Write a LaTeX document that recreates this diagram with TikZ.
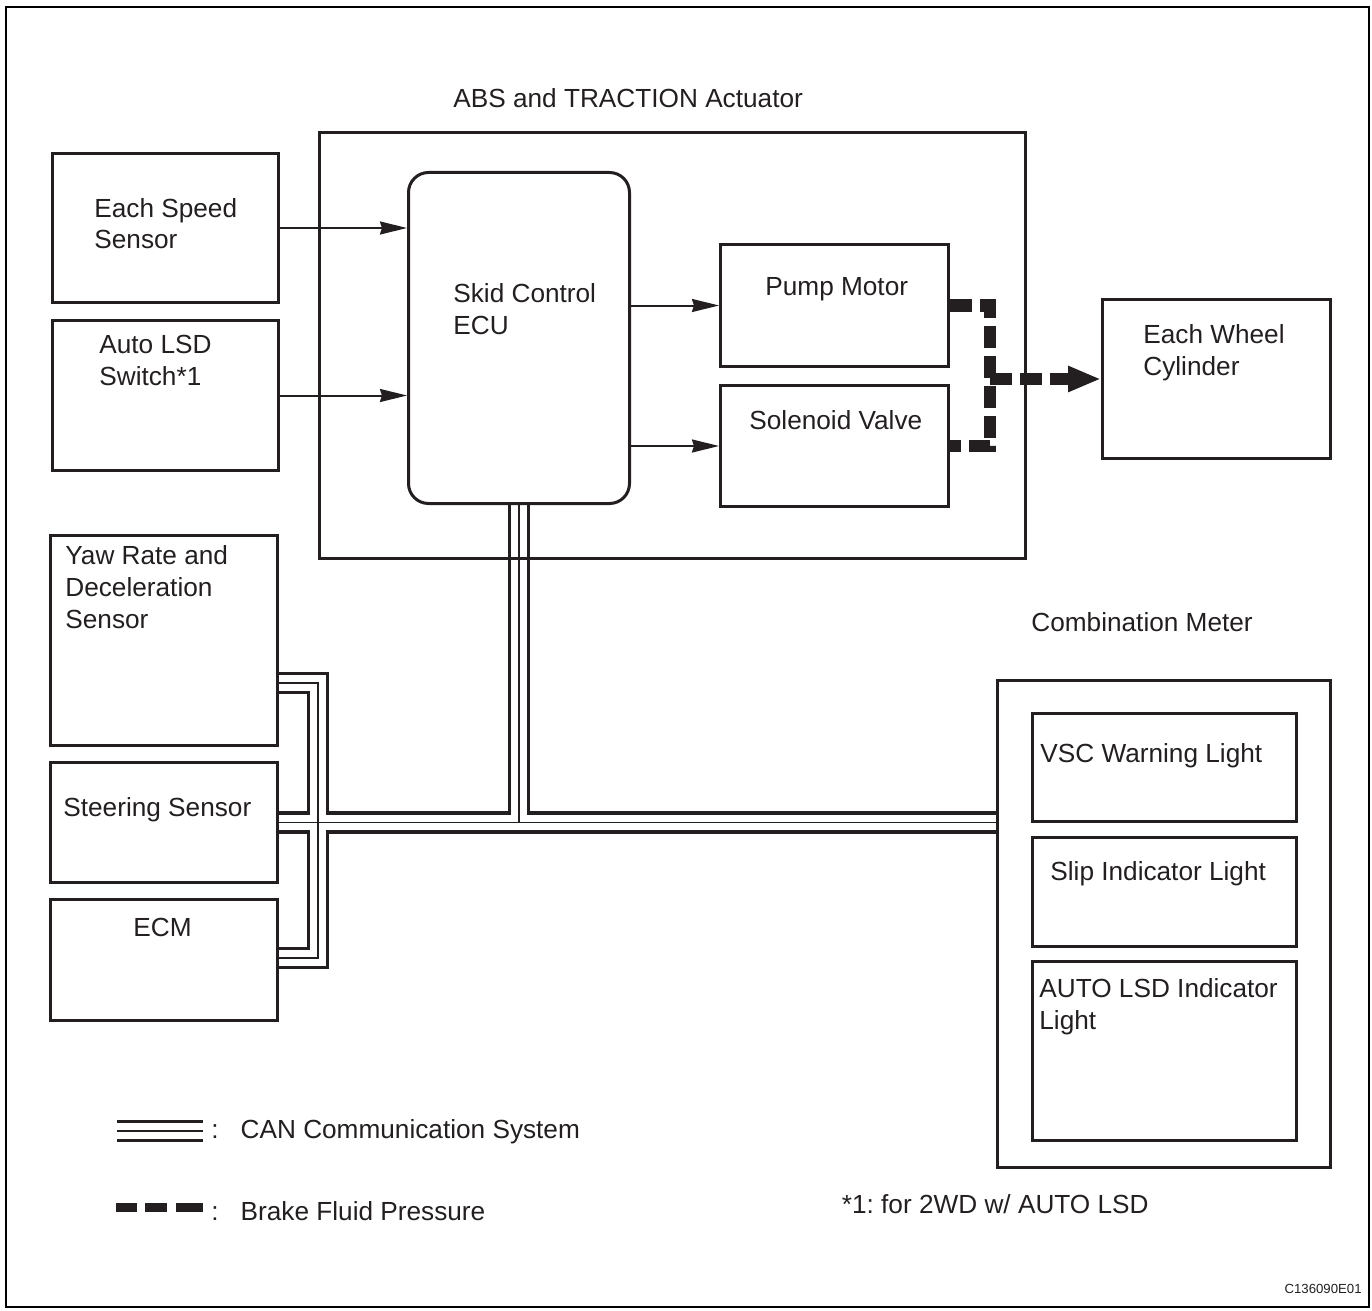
\documentclass[tikz,border=0pt]{standalone}
\usepackage{fontspec}
\setmainfont{Liberation Sans}
\usetikzlibrary{arrows.meta, positioning}
\definecolor{ink}{RGB}{35,31,32}
\pgfdeclarelayer{background}
\pgfsetlayers{background,main}

\begin{document}
\begin{tikzpicture}[
    x=0.5pt, y=-0.5pt,
    box/.style={rectangle, draw=ink, line width=1.5pt, inner sep=0pt, anchor=north west},
    ecubox/.style={box, rounded corners=10pt},
    txt/.style={anchor=base west, inner sep=0pt, align=left, text=ink, font=\fontsize{13.1}{15.8}\selectfont},
    sig/.style={-{Stealth[length=13.5pt, width=6.5pt, inset=1pt]}, line width=1pt, draw=ink},
    fluid/.style={line width=6.3pt, draw=ink, dash pattern=on 11pt off 4pt}
]
    \useasboundingbox (0,0) rectangle (1372,1311);
    \draw[line width=1pt] (6,7) rectangle (1369,1307);

    % Actuator and its parts
    \node[box, minimum width=353pt, minimum height=213pt] (act) at (318,131) {};
    \node[ecubox, minimum width=110.5pt, minimum height=165.5pt] (ecu) at (407,171) {};
    \node[box, minimum width=114pt, minimum height=61pt] (pump) at (719,243) {};
    \node[box, minimum width=114pt, minimum height=60.5pt] (sol) at (719,384) {};

    % Inputs
    \node[box, minimum width=113pt, minimum height=74.5pt] (speed) at (51,152) {};
    \node[box, minimum width=113pt, minimum height=75pt] (lsdsw) at (51,319) {};
    \node[box, minimum width=113.5pt, minimum height=105pt] (yaw) at (49,534) {};
    \node[box, minimum width=113.5pt, minimum height=60pt] (steer) at (49,761) {};
    \node[box, minimum width=113.5pt, minimum height=60.5pt] (ecm) at (49,898) {};

    % Outputs
    \node[box, minimum width=114pt, minimum height=79.5pt] (wheel) at (1101,298) {};
    \node[box, minimum width=166.5pt, minimum height=243.5pt] (meter) at (996,679) {};
    \node[box, minimum width=132pt, minimum height=54pt] (vsc) at (1031,712) {};
    \node[box, minimum width=132pt, minimum height=54.5pt] (slip) at (1031,836) {};
    \node[box, minimum width=132pt, minimum height=89.5pt] (autolsd) at (1031,960) {};

    % Labels (multi-line ones sit on their last baseline)
    \node[txt] (acttxt) at (453,108) {ABS and TRACTION Actuator};
    \node[txt] (ecutxt) at (453,334) {Skid Control\\ECU};
    \node[txt] (pumptxt) at (765,295) {Pump Motor};
    \node[txt] (soltxt) at (749,429) {Solenoid Valve};
    \node[txt] (speedtxt) at (94,249) {Each Speed\\Sensor};
    \node[txt] (lsdtxt) at (99,385) {Auto LSD\\Switch*1};
    \node[txt] (yawtxt) at (65,628) {Yaw Rate and\\Deceleration\\Sensor};
    \node[txt] (steertxt) at (63,816) {Steering Sensor};
    \node[txt] (ecmtxt) at (133,936) {ECM};
    \node[txt] (wheeltxt) at (1143,375) {Each Wheel\\Cylinder};
    \node[txt] (metertxt) at (1031,631) {Combination Meter};
    \node[txt] (vsctxt) at (1040,762) {VSC Warning Light};
    \node[txt] (sliptxt) at (1050,880) {Slip Indicator Light};
    \node[txt] (autotxt) at (1039,1029) {AUTO LSD Indicator\\Light};

    % Signal lines
    \draw[sig] (speed.east) -- (speed.east -| ecu.west);
    \draw[sig] (lsdsw.east) -- (lsdsw.east -| ecu.west);
    \draw[sig] (pump.west -| ecu.east) -- (pump.west);
    \draw[sig] (sol.west -| ecu.east) -- (sol.west);

    % Brake fluid pressure
    \coordinate (fj) at (990,0);
    \draw[fluid] (pump.east) -| (fj |- sol.east) -- (sol.east);
    \draw[fluid, -{Triangle[length=16.5pt, width=12pt]}] (fj |- wheel.west) -- (wheel.west);

    % CAN bus
    \coordinate (canA) at (318,683);
    \coordinate (canB) at (318,958);
    \coordinate (canL1) at (117,1131);
    \coordinate (canL2) at (203,1131);
    \begin{pgfonlayer}{background}
        \foreach \w/\c in {11.25pt/ink, 7.75pt/white, 0.8pt/ink} {
            \draw[line width=\w, draw=\c] (canA -| yaw.east) -- (canA) -- (canB) -- (canB -| ecm.east);
            \draw[line width=\w, draw=\c] (steer.east) -- (steer.east -| meter.west);
            \draw[line width=\w, draw=\c] (ecu.south) -- (ecu.south |- steer.east);
            \draw[line width=\w, draw=\c] (canL1) -- (canL2);
        }
    \end{pgfonlayer}

    % Legend
    \foreach \a/\b in {116/137, 145/167, 176/203}
        \fill[ink] (\a,1203) rectangle (\b,1212);
    \node[txt] (cantxt) at (211,1138) {:\hspace{11pt}CAN Communication System};
    \node[txt] (braketxt) at (211,1220) {:\hspace{11pt}Brake Fluid Pressure};
    \node[txt, anchor=base east] (notetxt) at (1149,1213) {*1:\ for 2WD w/ AUTO LSD};
    \node[txt, anchor=base east, font=\fontsize{6.6}{8}\selectfont] (codetxt) at (1362,1293) {C136090E01};
\end{tikzpicture}
\end{document}
